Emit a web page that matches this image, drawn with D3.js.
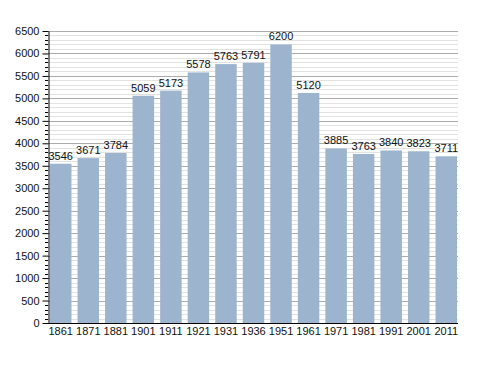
<!DOCTYPE html>
<html>
<head>
<meta charset="utf-8">
<script src="https://cdn.jsdelivr.net/npm/d3@7"></script>
<style>
  body { margin: 0; background: #fff; }
  text { font-family: "Liberation Sans", Arial, sans-serif; }
</style>
</head>
<body>
<div id="chart"></div>
<script>
var years = ["1861", "1871", "1881", "1901", "1911", "1921", "1931", "1936", "1951", "1961", "1971", "1981", "1991", "2001", "2011"];
var population = [3546, 3671, 3784, 5059, 5173, 5578, 5763, 5791, 6200, 5120, 3885, 3763, 3840, 3823, 3711];
var yTicks = [0, 500, 1000, 1500, 2000, 2500, 3000, 3500, 4000, 4500, 5000, 5500, 6000, 6500];

var W = 488, H = 373;
// plot edges (note: "top" is reserved on window, so use plotTop)
var plotLeft = 48, plotRight = 458, plotTop = 31, plotBottom = 323;

var svg = d3.select("#chart").append("svg")
    .attr("width", W)
    .attr("height", H);

var x = d3.scaleBand()
    .domain(years)
    .range([plotLeft + 2, plotRight - 1])
    .paddingInner(0.22)
    .paddingOuter(0);

var y = d3.scaleLinear()
    .domain([0, 6500])
    .range([plotBottom, plotTop]);

function yPix(d) { return Math.round(y(d)) + 0.5; }

// minor grid every 100
var minor = d3.range(100, 6501, 100).filter(function(v) { return v % 500 != 0; });
svg.append("g")
    .selectAll("line")
    .data(minor)
    .enter().append("line")
    .attr("x1", plotLeft).attr("x2", plotRight)
    .attr("y1", yPix)
    .attr("y2", yPix)
    .attr("stroke", "#e2e2e2")
    .attr("stroke-width", 1);

// major grid every 500
svg.append("g")
    .selectAll("line")
    .data(yTicks.slice(1))
    .enter().append("line")
    .attr("x1", plotLeft).attr("x2", plotRight)
    .attr("y1", yPix)
    .attr("y2", yPix)
    .attr("stroke", "#ababab")
    .attr("stroke-width", 1);

// bars
svg.append("g")
    .selectAll("rect")
    .data(population)
    .enter().append("rect")
    .attr("x", function(d, i) { return x(years[i]); })
    .attr("y", function(d) { return y(d); })
    .attr("width", x.bandwidth())
    .attr("height", function(d) { return plotBottom - y(d); })
    .attr("fill", "#9db4cf");

// value labels
svg.append("g")
    .selectAll("text")
    .data(population)
    .enter().append("text")
    .attr("x", function(d, i) { return x(years[i]) + x.bandwidth() / 2; })
    .attr("y", function(d) { return y(d) - 4; })
    .attr("text-anchor", "middle")
    .attr("font-size", 11)
    .attr("fill", "#111")
    .text(function(d) { return d; });

// y axis minor ticks
svg.append("g")
    .selectAll("line")
    .data(minor)
    .enter().append("line")
    .attr("x1", plotLeft - 3).attr("x2", plotLeft)
    .attr("y1", yPix)
    .attr("y2", yPix)
    .attr("stroke", "#000");

var yAxis = svg.append("g")
    .attr("transform", "translate(" + (plotLeft + 0.5) + ",0)")
    .call(d3.axisLeft(y).tickValues(yTicks).tickSize(6).tickSizeOuter(0).tickFormat(d3.format("d")));
yAxis.selectAll("text").attr("font-size", 11).attr("fill", "#111").style("font-family", "Liberation Sans, Arial, sans-serif");
yAxis.select(".domain").attr("stroke", "#000");

// x axis
var xAxis = svg.append("g")
    .attr("transform", "translate(0," + (plotBottom + 0.5) + ")")
    .call(d3.axisBottom(x).tickSize(0).tickSizeOuter(0).tickPadding(4));
xAxis.select(".domain").attr("d", "M" + plotLeft + ",0H" + plotRight).attr("stroke", "#000");
xAxis.selectAll("text").attr("font-size", 11).attr("fill", "#111").style("font-family", "Liberation Sans, Arial, sans-serif");
</script>
</body>
</html>
